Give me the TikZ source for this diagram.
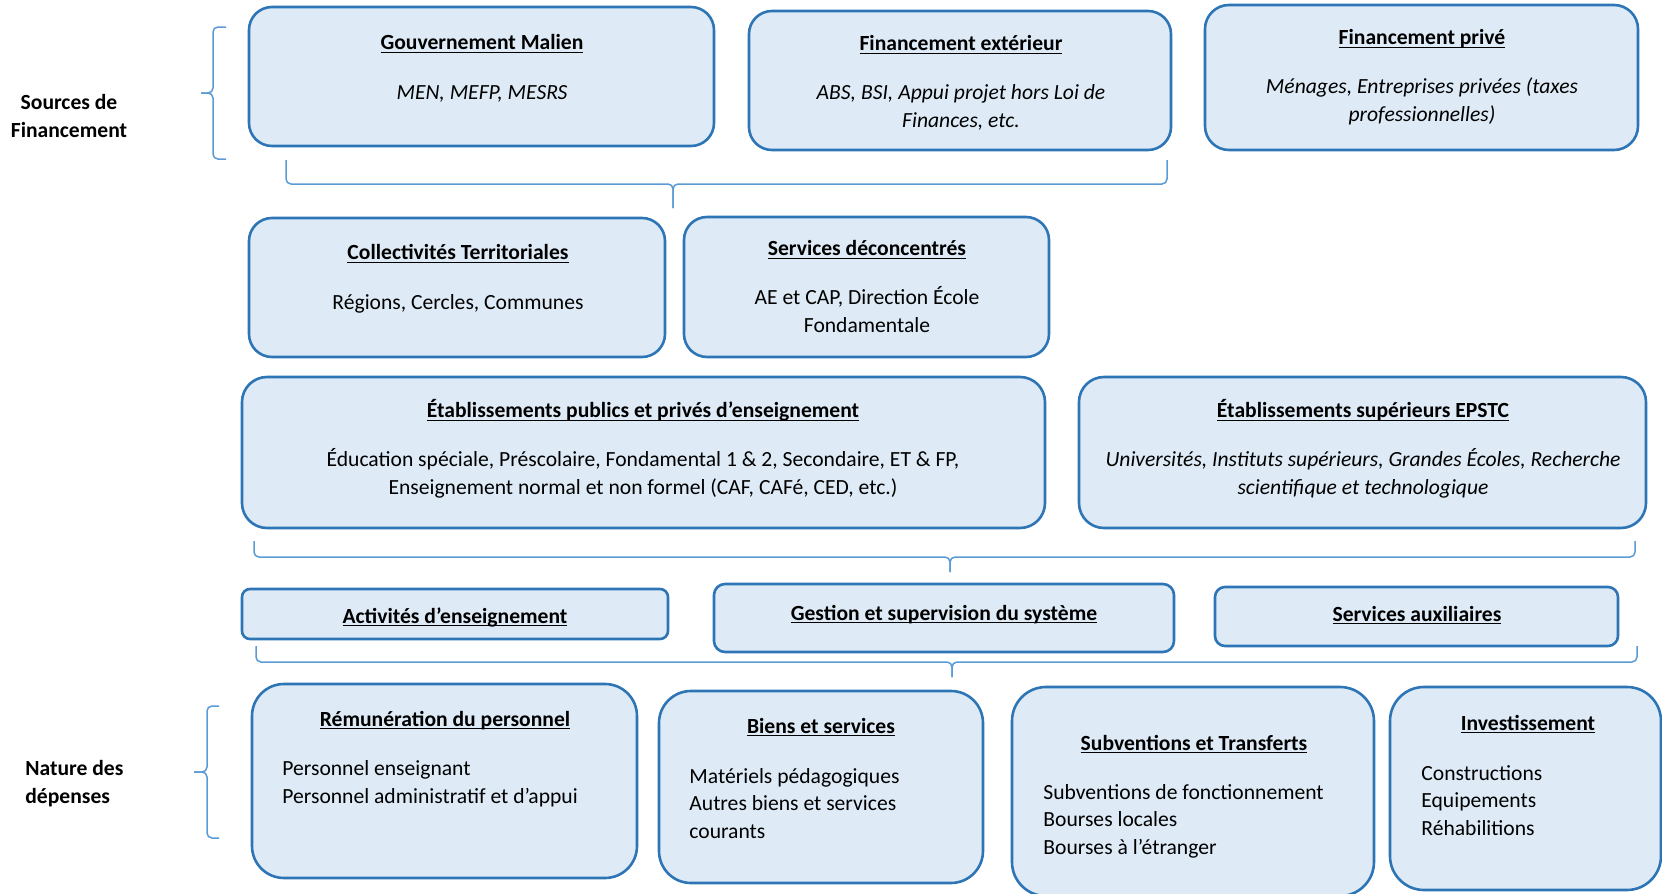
\documentclass[tikz,border=0pt]{standalone}
\usepackage{fontspec}
\setmainfont{Carlito}
\usepackage{tikz}
\usetikzlibrary{positioning}

\definecolor{boxline}{HTML}{2E75B6}
\definecolor{boxfill}{HTML}{DEEBF7}
\definecolor{braceline}{HTML}{5B9BD5}
\newcommand{\titre}[1]{\textbf{\underline{\smash{#1}}}}

\tikzset{
  box/.style={draw=boxline, fill=boxfill, line width=1.3pt, rounded corners=#1, inner sep=0pt},
  box/.default=11.5pt,
  txt/.style={align=center, anchor=base, inner sep=0pt, font=\fontsize{10.8}{13.6}\selectfont},
  txtl/.style={align=left, anchor=base west, inner sep=0pt, font=\fontsize{10.8}{13.6}\selectfont},
  brc/.style={draw=braceline, line width=0.75pt, rounded corners=2.5pt},
}

\begin{document}
\begin{tikzpicture}[x=0.5pt, y=-0.5pt]
  \useasboundingbox (0,0) rectangle (1662,894);
  \clip (0,0) rectangle (1662,894);

  \node[txt, font=\fontsize{10.8}{13.6}\selectfont\bfseries] (sources) at (69,137) {Sources de\\Financement};
  \node[txtl, font=\fontsize{10.8}{13.6}\selectfont\bfseries] (nature) at (25,803) {Nature des\\dépenses};

  \node[box, minimum width=232.5pt, minimum height=69.5pt] (gouv) at (481.5,76.5) {};
  \node[box, minimum width=211pt, minimum height=69.5pt] (finext) at (960,80.5) {};
  \node[box=12pt, minimum width=216.5pt, minimum height=72.5pt] (finpriv) at (1421.5,77.5) {};
  \node[txt] (gouvt) at (482,99) {\titre{Gouvernement Malien}\\[11pt]\textit{MEN, MEFP, MESRS}};
  \node[txt] (finextt) at (961,127) {\titre{Financement extérieur}\\[11pt]\textit{ABS, BSI, Appui projet hors Loi de}\\\textit{Finances, etc.}};
  \node[txt] (finprivt) at (1422,121) {\titre{Financement privé}\\[11pt]\textit{Ménages, Entreprises privées (taxes}\\\textit{professionnelles)}};

  \node[box, minimum width=208pt, minimum height=69.5pt] (collect) at (457,287.5) {};
  \node[box, minimum width=182.5pt, minimum height=70pt] (servdec) at (866.5,287) {};
  \node[txt] (collectt) at (458,309) {\titre{Collectivités Territoriales}\\[11pt]Régions, Cercles, Communes};
  \node[txt] (servdect) at (867,332) {\titre{Services déconcentrés}\\[11pt]AE et CAP, Direction École\\Fondamentale};

  \node[box=12.5pt, minimum width=401.5pt, minimum height=75.5pt] (etabpub) at (643.5,452.5) {};
  \node[box=12.5pt, minimum width=283.5pt, minimum height=75.5pt] (etabsup) at (1362.5,452.5) {};
  \node[txt] (etabpubt) at (643,494) {\titre{Établissements publics et privés d’enseignement}\\[11pt]Éducation spéciale, Préscolaire, Fondamental 1 \& 2, Secondaire, ET \& FP,\\Enseignement normal et non formel (CAF, CAFé, CED, etc.)};
  \node[txt] (etabsupt) at (1363,494) {\titre{Établissements supérieurs EPSTC}\\[11pt]\textit{Universités, Instituts supérieurs, Grandes Écoles, Recherche}\\\textit{scientifique et technologique}};

  \node[box=4pt, minimum width=213pt, minimum height=25pt] (activ) at (455,614) {};
  \node[box=5.5pt, minimum width=230pt, minimum height=34pt] (gestion) at (944,618) {};
  \node[box=5pt, minimum width=201.5pt, minimum height=29.5pt] (servaux) at (1416.5,616.5) {};
  \node[txt] (activt) at (455,623) {\titre{Activités d’enseignement}};
  \node[txt] (gestiont) at (944,620) {\titre{Gestion et supervision du système}};
  \node[txt] (servauxt) at (1417,621) {\titre{Services auxiliaires}};

  \node[box=16pt, minimum width=192.5pt, minimum height=97pt] (remun) at (444.5,781) {};
  \node[box=16pt, minimum width=162pt, minimum height=96pt] (biens) at (821,787) {};
  \node[box=17pt, minimum width=181pt, minimum height=104.5pt] (subv) at (1193,791.5) {};
  \node[box=17pt, minimum width=135.5pt, minimum height=101.5pt] (invest) at (1525.5,788.5) {};
  \node[txt] (remunt) at (445,726) {\titre{Rémunération du personnel}};
  \node[txtl] (remunb) at (282,803) {Personnel enseignant\\Personnel administratif et d’appui};
  \node[txt] (bienst) at (821,733) {\titre{Biens et services}};
  \node[txtl] (biensb) at (689,838) {Matériels pédagogiques\\Autres biens et services\\courants};
  \node[txt] (subvt) at (1194,750) {\titre{Subventions et Transferts}};
  \node[txtl] (subvb) at (1043,854) {Subventions de fonctionnement\\Bourses locales\\Bourses à l’étranger};
  \node[txt] (investt) at (1528,730) {\titre{Investissement}};
  \node[txtl] (investb) at (1421,835) {Constructions\\Equipements\\Réhabilitions};

  \draw[brc] (226,27) -- (213,27) -- (213,93) -- (201,93);
  \draw[brc] (226,159) -- (213,159) -- (213,93) -- (201,93);
  \draw[brc] (219,706) -- (207,706) -- (207,772) -- (194,772);
  \draw[brc] (219,838) -- (207,838) -- (207,772) -- (194,772);

  \draw[brc] (286,160) -- (286,184) -- (673,184) -- (673,208);
  \draw[brc] (1167,160) -- (1167,184) -- (673,184) -- (673,208);
  \draw[brc] (254,541) -- (254,557) -- (950,557) -- (950,572);
  \draw[brc] (1635,541) -- (1635,557) -- (950,557) -- (950,572);
  \draw[brc] (256,646) -- (256,662) -- (952,662) -- (952,677);
  \draw[brc] (1637,646) -- (1637,662) -- (952,662) -- (952,677);
\end{tikzpicture}
\end{document}
